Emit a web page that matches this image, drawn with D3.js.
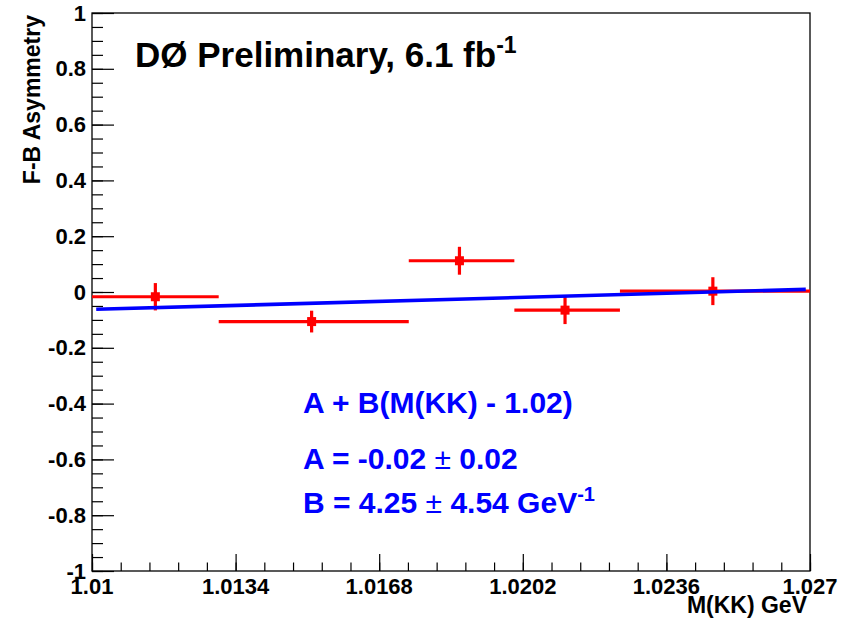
<!DOCTYPE html>
<html>
<head>
<meta charset="utf-8">
<script src="https://cdn.jsdelivr.net/npm/d3@7"></script>
<style>
  html, body { margin: 0; padding: 0; background: #fff; }
  svg { display: block; font-family: "Liberation Sans", Arial, Helvetica, sans-serif; font-weight: bold; }
</style>
</head>
<body>
<svg id="chart" width="858" height="625"></svg>
<script>
// Forward-backward asymmetry in bins of M(KK)
const binLow    = [1.0100, 1.0130, 1.0175, 1.0200, 1.0225];
const binHigh   = [1.0130, 1.0175, 1.0200, 1.0225, 1.0270];
const binCentre = [1.0115, 1.0152, 1.0187, 1.0212, 1.0247];
const asym      = [-0.017, -0.106, 0.112, -0.065, 0.003];
const asymErr   = [0.049, 0.039, 0.050, 0.050, 0.050];

// Linear fit A + B(M - 1.02)
const fitA = -0.02, fitAErr = 0.02;
const fitB = 4.25,  fitBErr = 4.54;
const fitM0 = 1.02;
const fitRange = [1.0101, 1.0269];

// Axis ticks
const xMajor = [1.01, 1.0134, 1.0168, 1.0202, 1.0236, 1.027];
const xMajorLabels = ["1.01", "1.0134", "1.0168", "1.0202", "1.0236", "1.027"];
const yMajor = [-1, -0.8, -0.6, -0.4, -0.2, 0, 0.2, 0.4, 0.6, 0.8, 1];
const yMajorLabels = ["-1", "-0.8", "-0.6", "-0.4", "-0.2", "0", "0.2", "0.4", "0.6", "0.8", "1"];

const W = 858, H = 625;
const m = { left: 92, right: 48, top: 13, bottom: 54 };
const pw = W - m.left - m.right, ph = H - m.top - m.bottom;

const svg = d3.select("#chart");
const g = svg.append("g").attr("transform", `translate(${m.left},${m.top})`);

const x = d3.scaleLinear().domain([1.01, 1.027]).range([0, pw]);
const y = d3.scaleLinear().domain([-1, 1]).range([ph, 0]);

// minor tick positions: 5 per x division, 4 per y division
const xMinor = d3.range(0, 26).map(i => 1.01 + i * 0.00068).filter(v => v <= 1.027 + 1e-9);
const yMinor = d3.range(0, 41).map(i => -1 + i * 0.05);

// frame
g.append("rect").attr("x", 0).attr("y", 0).attr("width", pw).attr("height", ph)
  .attr("fill", "none").attr("stroke", "#000").attr("stroke-width", 1.3);

// x axis ticks
const xAxisMinor = d3.axisTop(x).tickValues(xMinor).tickSize(8.5).tickFormat("");
const xAxisMajor = d3.axisTop(x).tickValues(xMajor).tickSize(17).tickFormat("");
[xAxisMinor, xAxisMajor].forEach(ax => {
  const s = g.append("g").attr("transform", `translate(0,${ph})`).call(ax);
  s.select(".domain").remove();
  s.selectAll("line").attr("stroke", "#000").attr("stroke-width", 1.2);
});
// y axis ticks
const yAxisMinor = d3.axisRight(y).tickValues(yMinor).tickSize(11).tickFormat("");
const yAxisMajor = d3.axisRight(y).tickValues(yMajor).tickSize(22).tickFormat("");
[yAxisMinor, yAxisMajor].forEach(ax => {
  const s = g.append("g").call(ax);
  s.select(".domain").remove();
  s.selectAll("line").attr("stroke", "#000").attr("stroke-width", 1.2);
});

// tick labels
g.append("g").selectAll("text").data(xMajor).join("text")
  .attr("x", d => x(d)).attr("y", ph + 22.5)
  .attr("text-anchor", "middle").attr("font-size", 22)
  .text((d, i) => xMajorLabels[i]);
g.append("g").selectAll("text").data(yMajor).join("text")
  .attr("x", -6).attr("y", d => y(d) + 7.5)
  .attr("text-anchor", "end").attr("font-size", 22)
  .text((d, i) => yMajorLabels[i]);

// axis titles
svg.append("text").attr("x", m.left + pw - 3).attr("y", 613)
  .attr("text-anchor", "end").attr("font-size", 23).text("M(KK) GeV");
svg.append("text").attr("transform", `translate(40,15) rotate(-90)`)
  .attr("text-anchor", "end").attr("font-size", 23).text("F-B Asymmetry");

// data: horizontal bin bars, vertical error bars, square markers
const red = "#ff0000";
const pts = binCentre.map((c, i) => ({ c, lo: binLow[i], hi: binHigh[i], v: asym[i], e: asymErr[i] }));
const dg = g.append("g");
dg.selectAll("line.h").data(pts).join("line").attr("class", "h")
  .attr("x1", d => x(d.lo)).attr("x2", d => x(d.hi))
  .attr("y1", d => y(d.v)).attr("y2", d => y(d.v))
  .attr("stroke", red).attr("stroke-width", 3.2);
dg.selectAll("line.v").data(pts).join("line").attr("class", "v")
  .attr("x1", d => x(d.c)).attr("x2", d => x(d.c))
  .attr("y1", d => y(d.v - d.e)).attr("y2", d => y(d.v + d.e))
  .attr("stroke", red).attr("stroke-width", 3.2);
dg.selectAll("rect").data(pts).join("rect")
  .attr("x", d => x(d.c) - 4.5).attr("y", d => y(d.v) - 4.5)
  .attr("width", 9).attr("height", 9).attr("fill", red);

// fit line
const fit = M => fitA + fitB * (M - fitM0);
g.append("line")
  .attr("x1", x(fitRange[0])).attr("y1", y(fit(fitRange[0])))
  .attr("x2", x(fitRange[1])).attr("y2", y(fit(fitRange[1])))
  .attr("stroke", "#0000ff").attr("stroke-width", 3.6);

// title
const title = svg.append("text").attr("x", 135).attr("y", 67).attr("font-size", 35);
title.append("tspan").text("DØ Preliminary, 6.1 fb");
title.append("tspan").attr("font-size", 23).attr("dy", -14).text("-1");

// fit result text
const blue = "#0000ff";
svg.append("text").attr("x", 303).attr("y", 413).attr("font-size", 30).attr("fill", blue)
  .text(`A + B(M(KK) - ${fitM0.toFixed(2)})`);
const tA = svg.append("text").attr("x", 303).attr("y", 469).attr("font-size", 30).attr("fill", blue);
tA.append("tspan").text(`A = ${fitA.toFixed(2)} `);
tA.append("tspan").attr("font-weight", "normal").text("±");
tA.append("tspan").text(` ${fitAErr.toFixed(2)}`);
const tB = svg.append("text").attr("x", 303).attr("y", 513).attr("font-size", 30).attr("fill", blue);
tB.append("tspan").text(`B = ${fitB.toFixed(2)} `);
tB.append("tspan").attr("font-weight", "normal").text("±");
tB.append("tspan").text(` ${fitBErr.toFixed(2)} GeV`);
tB.append("tspan").attr("font-size", 20).attr("dy", -12).text("-1");
</script>
</body>
</html>
